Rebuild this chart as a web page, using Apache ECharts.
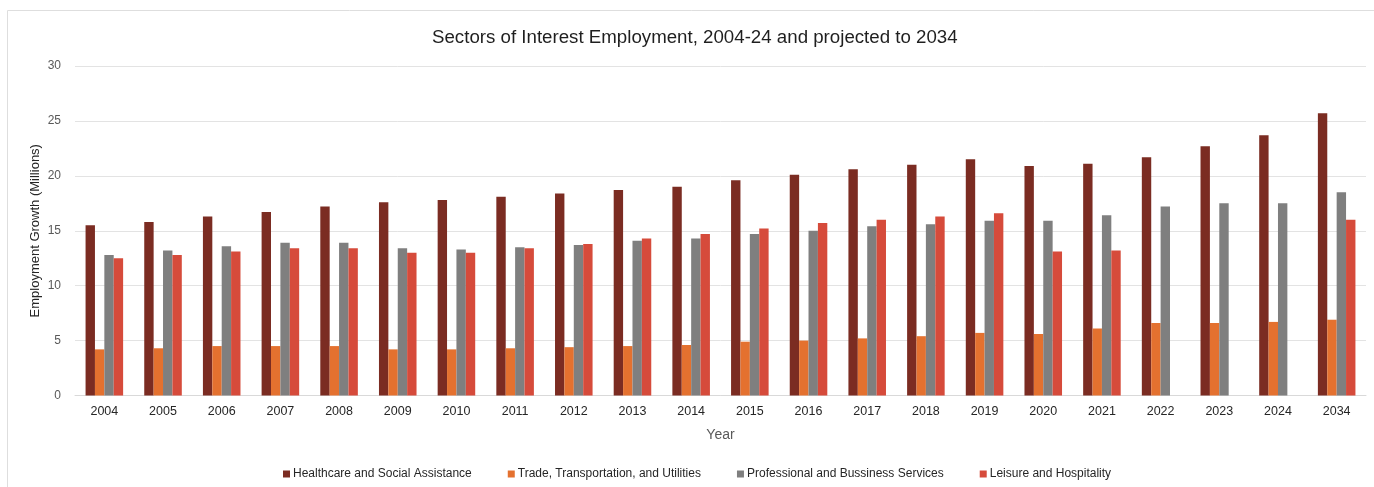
<!DOCTYPE html>
<html>
<head>
<meta charset="utf-8">
<script src="https://cdn.jsdelivr.net/npm/echarts@6/dist/echarts.min.js"></script>
<style>
  html, body { margin: 0; padding: 0; background: #ffffff; }
  #chart { width: 1374px; height: 487px; }
</style>
</head>
<body>
<div id="chart"></div>
<script>
// Employment by sector, millions of jobs
const years = ['2004','2005','2006','2007','2008','2009','2010','2011','2012','2013','2014',
               '2015','2016','2017','2018','2019','2020','2021','2022','2023','2024','2034'];

const healthcare = [15.5,15.8,16.3,16.7,17.2,17.6,17.8,18.1,18.4,18.7,19.0,
                    19.6,20.1,20.6,21.0,21.5,20.9,21.1,21.7,22.7,23.7,25.7];
const trade      = [4.2,4.3,4.5,4.5,4.5,4.2,4.2,4.3,4.4,4.5,4.6,
                    4.9,5.0,5.2,5.4,5.7,5.6,6.1,6.6,6.6,6.7,6.9];
const professional = [12.8,13.2,13.6,13.9,13.9,13.4,13.3,13.5,13.7,14.1,14.3,
                      14.7,15.0,15.4,15.6,15.9,15.9,16.4,17.2,17.5,17.5,18.5];
const leisure    = [12.5,12.8,13.1,13.4,13.4,13.0,13.0,13.4,13.8,14.3,14.7,
                    15.2,15.7,16.0,16.3,16.6,13.1,13.2,null,null,null,16.0];

const yTicks = { min: 0, max: 30, step: 5 };

const seriesNames = [
  'Healthcare and Social Assistance',
  'Trade, Transportation, and Utilities',
  'Professional and Bussiness Services',
  'Leisure and Hospitality'
];
const seriesColors = ['#7b2c22', '#e4712f', '#7f7f7f', '#d64b3b'];
const seriesData = [healthcare, trade, professional, leisure];

const chart = echarts.init(document.getElementById('chart'), null, { renderer: 'canvas' });

const option = {
  backgroundColor: '#ffffff',
  animation: false,
  graphic: [{
    type: 'rect',
    shape: { x: 7.5, y: 10.5, width: 1420, height: 520 },
    style: { fill: 'none', stroke: '#dedede', lineWidth: 1 },
    silent: true,
    z: -1
  }],
  title: {
    text: 'Sectors of Interest Employment, 2004-24 and projected to 2034',
    left: 427,
    top: 23,
    textStyle: {
      fontFamily: '"Liberation Sans", Arial, sans-serif',
      fontSize: 18.7,
      fontWeight: 'normal',
      color: '#1f1f1f'
    }
  },
  legend: {
    data: seriesNames,
    bottom: 2,
    left: 278,
    itemWidth: 7,
    itemHeight: 7,
    itemGap: 36,
    icon: 'rect',
    textStyle: {
      fontFamily: '"Liberation Sans", Arial, sans-serif',
      fontSize: 12,
      color: '#262626',
      padding: [0, 0, 0, -2]
    }
  },
  grid: {
    left: 75,
    right: 8,
    top: 66,
    bottom: 91.5,
    containLabel: false
  },
  xAxis: {
    type: 'category',
    data: years,
    name: 'Year',
    nameLocation: 'middle',
    nameGap: 33,
    nameMoveOverlap: false,
    nameTextStyle: {
      fontFamily: '"Liberation Sans", Arial, sans-serif',
      fontSize: 14,
      color: '#595959'
    },
    axisLine: { lineStyle: { color: '#d9d9d9', width: 1 } },
    axisTick: { show: false },
    axisLabel: {
      margin: 10,
      fontFamily: '"Liberation Sans", Arial, sans-serif',
      fontSize: 12.5,
      color: '#262626'
    }
  },
  yAxis: {
    type: 'value',
    min: yTicks.min,
    max: yTicks.max,
    interval: yTicks.step,
    name: 'Employment Growth (Millions)',
    nameLocation: 'middle',
    nameGap: 33,
    nameMoveOverlap: false,
    nameTextStyle: {
      fontFamily: '"Liberation Sans", Arial, sans-serif',
      fontSize: 13,
      color: '#262626'
    },
    axisLine: { show: false },
    axisTick: { show: false },
    axisLabel: {
      margin: 14,
      fontFamily: '"Liberation Sans", Arial, sans-serif',
      fontSize: 12,
      color: '#595959'
    },
    splitLine: { lineStyle: { color: '#e3e3e3', width: 1 } }
  },
  series: seriesNames.map((name, i) => ({
    name: name,
    type: 'bar',
    data: seriesData[i],
    barGap: '0%',
    barCategoryGap: '36%',
    itemStyle: { color: seriesColors[i] }
  }))
};

chart.setOption(option);
</script>
</body>
</html>
